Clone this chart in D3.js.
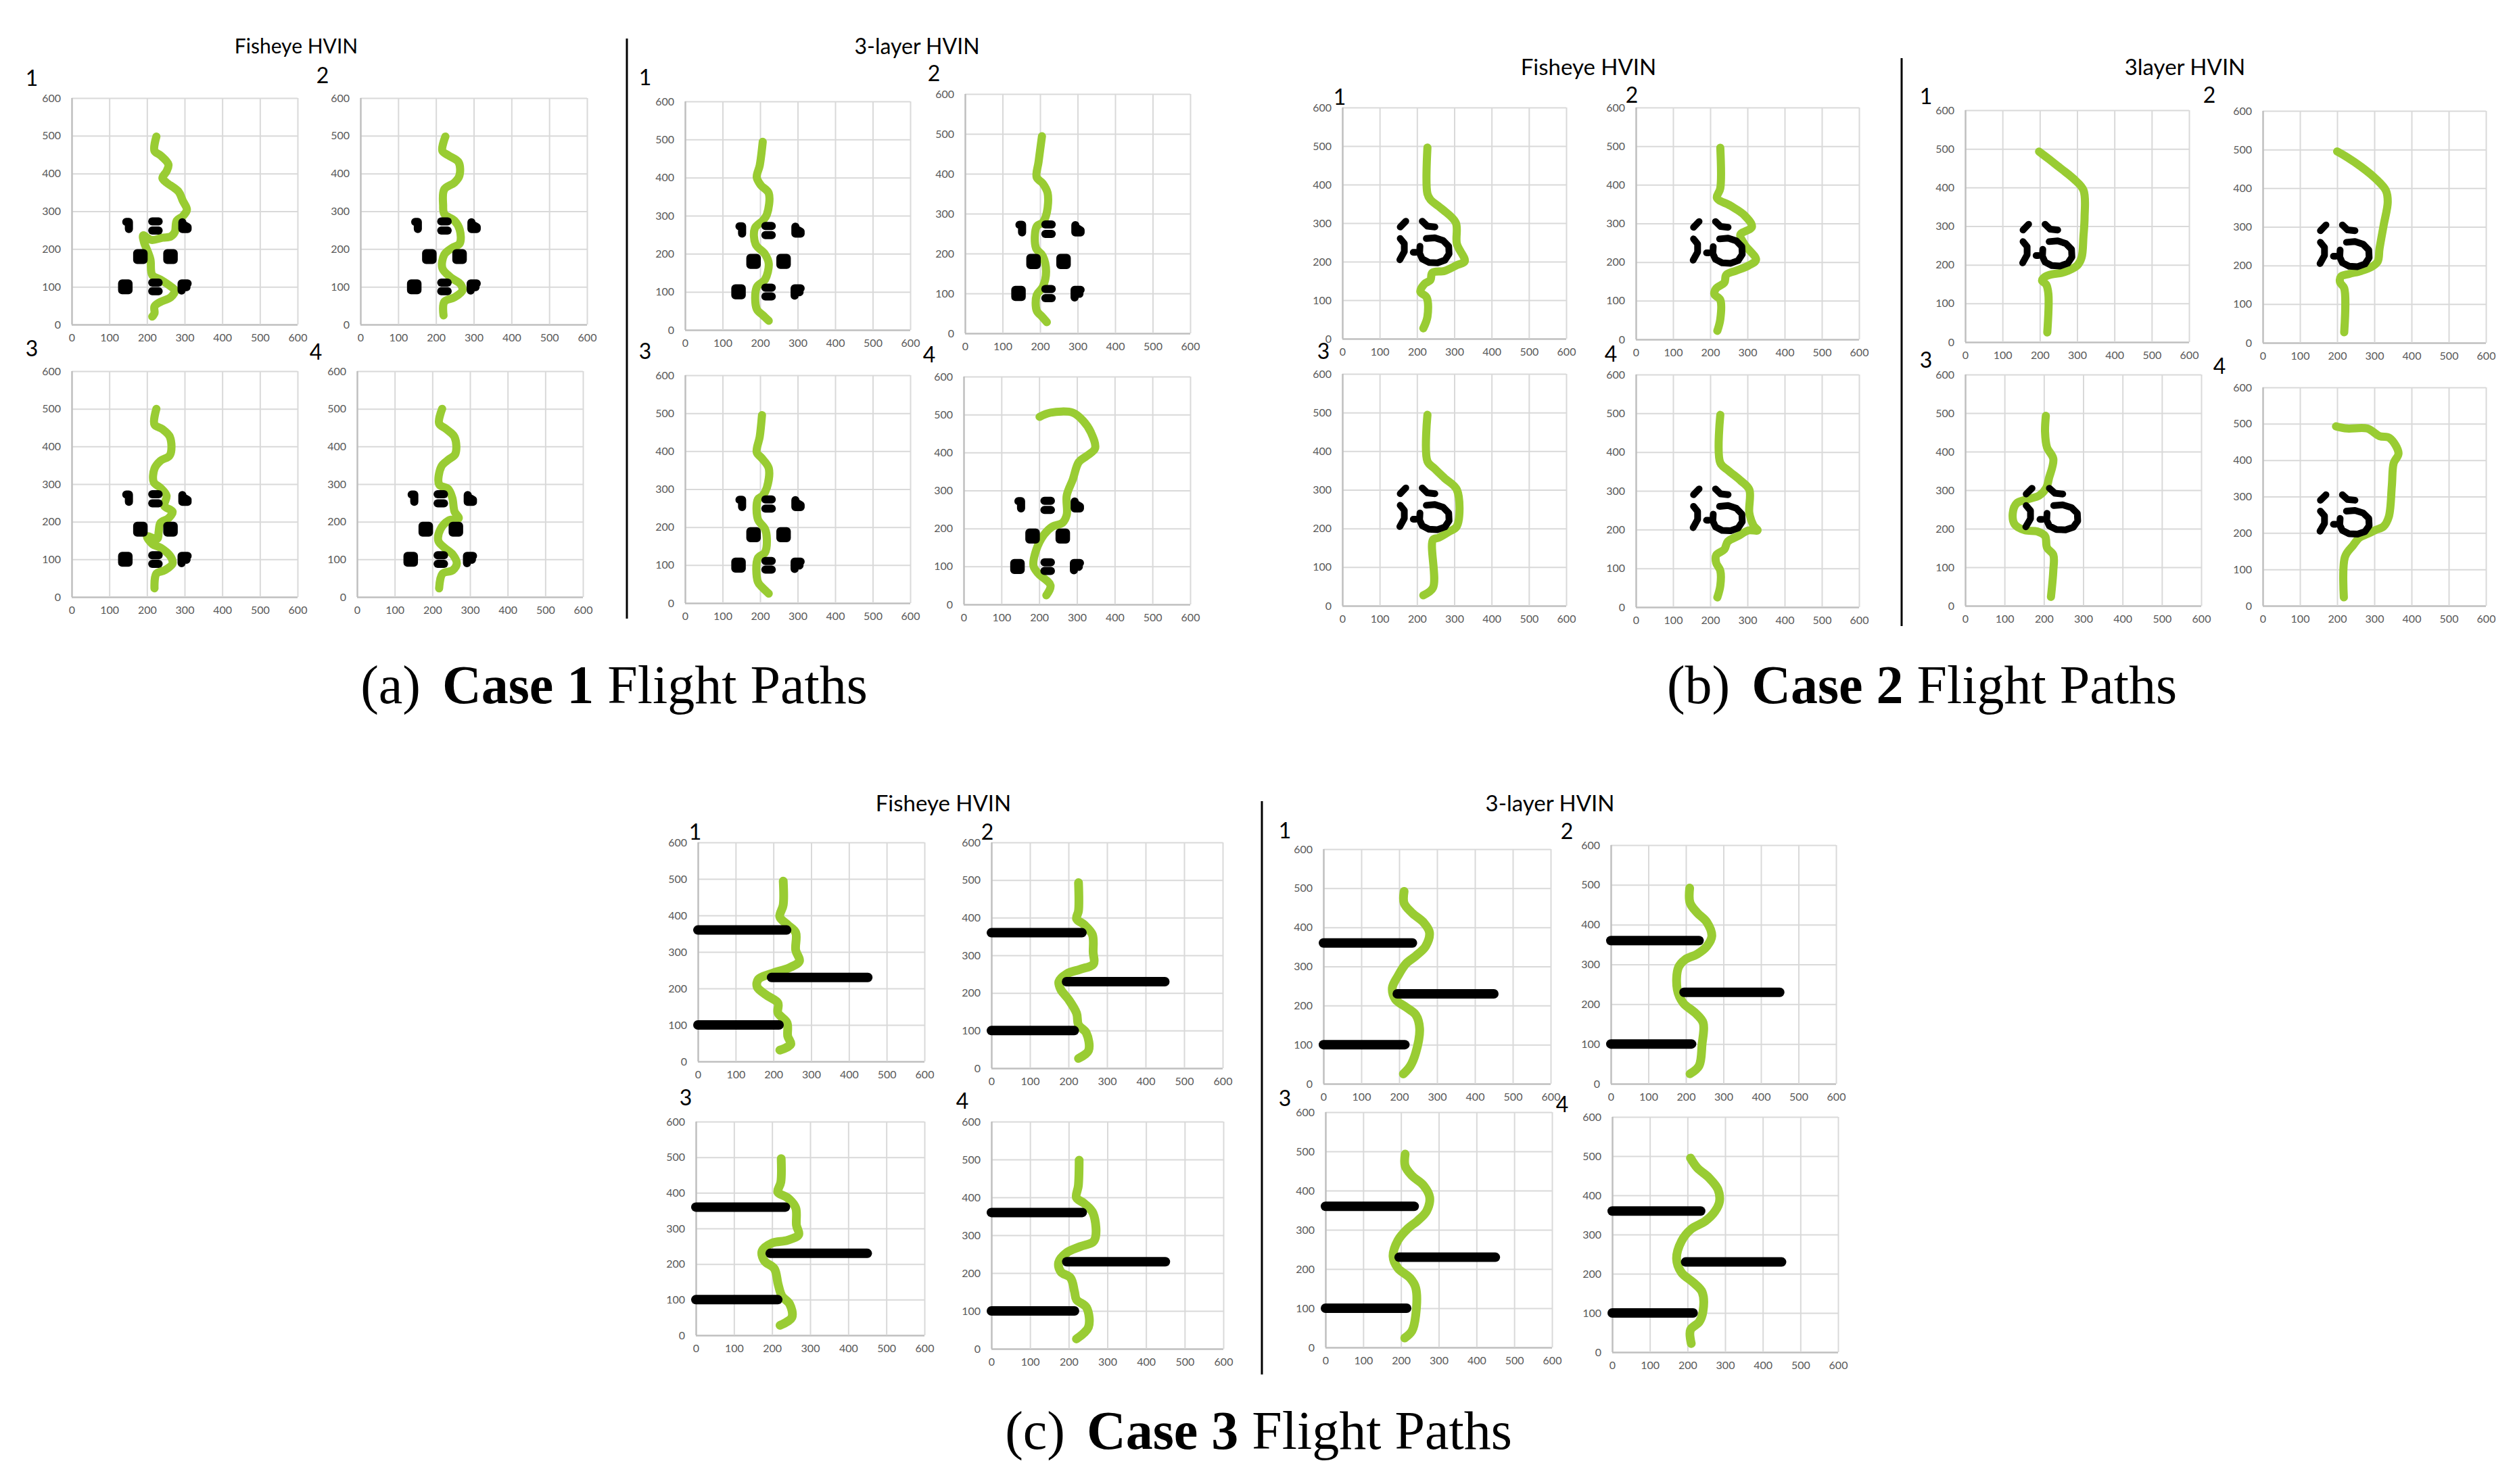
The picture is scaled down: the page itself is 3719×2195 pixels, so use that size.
<!DOCTYPE html>
<html><head><meta charset="utf-8">
<script src="https://cdn.jsdelivr.net/npm/d3@7"></script>
<style>body{margin:0;background:#fff}</style>
</head><body><svg id="c" width="3719" height="2195" xmlns="http://www.w3.org/2000/svg"></svg>
<script>
// ---------- DATA ----------
const axisTicks = [0, 100, 200, 300, 400, 500, 600];
const panelNames = ["1", "2", "3", "4"];
const groupTitles = ["Fisheye HVIN", "3-layer HVIN", "Fisheye HVIN", "3layer HVIN", "Fisheye HVIN", "3-layer HVIN"];
const captionLabels = ["(a)", "(b)", "(c)"];
const captionCases = ["Case 1", "Case 2", "Case 3"];
const captionRest = " Flight Paths";

// obstacles (polylines, in chart units)
const case1Obstacles = [
  [[145,272],[152,272],[152,253]],
  [[214,273],[231,273]], [[214,249],[231,249]],
  [[294,271],[294,253],[308,253]], [[301,262],[308,258]],
  [[174,189],[191,189],[191,171],[174,171],[174,189]],
  [[254,189],[271,189],[271,171],[254,171],[254,189]],
  [[134,109],[151,109],[151,91],[134,91],[134,109]],
  [[214,111],[231,111]], [[214,88],[231,88]],
  [[292,90],[292,109],[308,109]], [[299,101],[305,99]]
];
const case2Obstacles = [
  [[155,290],[170,305]],
  [[214,305],[228,292],[248,290]],
  [[155,260],[166,247],[166,226],[154,205]],
  [[190,224],[196,224]],
  [[225,260],[248,262],[270,255],[285,240],[286,220],[275,204],[255,197],[232,198],[214,207],[207,222],[208,240]]
];
const case3Obstacles = [
  [[0,360],[235,360]],
  [[195,230],[450,230]],
  [[0,100],[215,100]]
];

// flight paths
const c1Fish1 = [[225,498],[220,460],[236,448],[257,424],[252,406],[241,388],[252,376],[284,352],[295,328],[306,304],[295,287],[279,275],[274,245],[263,233],[241,230],[212,224],[190,236],[193,215],[198,203],[209,173],[214,131],[236,119],[263,101],[274,90],[263,72],[236,60],[220,48],[220,30],[214,21]];
const c1Fish2 = [[225,498],[217,460],[233,448],[260,430],[262,394],[249,376],[222,358],[219,316],[222,293],[249,275],[263,251],[263,215],[243,203],[222,185],[217,149],[239,125],[265,107],[270,90],[249,72],[222,60],[220,24]];
const c1Fish3 = [[225,500],[220,458],[241,446],[261,425],[261,377],[236,362],[220,341],[218,305],[236,290],[252,269],[246,242],[268,227],[257,209],[236,197],[231,173],[228,155],[200,161],[215,140],[236,131],[263,107],[268,89],[247,71],[225,62],[220,23]];
const c1Fish4 = [[226,500],[218,461],[237,446],[259,425],[261,380],[243,365],[224,347],[218,299],[242,287],[253,263],[259,227],[270,209],[243,203],[221,179],[216,149],[232,131],[254,113],[265,89],[254,71],[227,62],[218,23]];
const c1Layer1 = [[207,494],[199,432],[191,401],[202,380],[223,359],[218,303],[207,287],[186,267],[188,225],[213,199],[223,174],[213,132],[191,112],[191,55],[207,39],[223,24]];
const c1Layer2 = [[205,494],[196,430],[191,391],[207,376],[220,352],[218,303],[207,278],[191,268],[189,214],[207,194],[216,155],[207,116],[191,96],[191,57],[205,42],[218,28]];
const c1Layer3 = [[205,495],[199,438],[191,397],[205,381],[223,355],[218,304],[207,283],[194,273],[194,221],[213,195],[218,169],[213,133],[194,118],[194,56],[207,40],[223,25]];
const c1Layer4 = [[201,494],[230,505],[289,505],[316,484],[337,453],[348,411],[326,391],[305,375],[289,329],[273,287],[273,236],[262,215],[235,205],[213,184],[192,143],[185,101],[198,81],[230,50],[219,24]];

const c2Fish1 = [[228,496],[228,376],[236,361],[268,336],[304,301],[307,246],[328,201],[307,191],[274,176],[241,171],[236,152],[220,142],[209,122],[226,107],[228,57],[217,27]];
const c2Fish2 = [[227,496],[227,391],[218,366],[254,346],[292,321],[312,291],[281,271],[292,246],[323,206],[303,191],[270,178],[243,167],[238,147],[216,132],[211,117],[227,102],[227,52],[219,22]];
const c2Fish3 = [[228,494],[228,374],[247,355],[274,330],[307,300],[307,206],[285,191],[258,176],[243,171],[243,47],[217,27]];
const c2Fish4 = [[227,496],[227,372],[249,352],[281,327],[305,303],[305,243],[316,211],[327,198],[303,198],[276,184],[247,169],[238,149],[216,134],[216,114],[227,94],[227,55],[219,25]];
const c2Layer1 = [[198,493],[225,473],[258,448],[290,423],[317,393],[320,323],[317,274],[312,219],[301,199],[274,184],[258,179],[236,176],[214,169],[206,159],[217,149],[223,124],[220,25]];
const c2Layer2 = [[200,495],[227,480],[265,455],[303,425],[331,394],[336,364],[325,304],[314,244],[309,210],[292,196],[265,186],[232,178],[210,171],[208,156],[219,141],[219,27]];
const c2Layer3 = [[205,493],[203,451],[208,411],[224,381],[213,331],[206,306],[188,286],[157,276],[131,266],[121,241],[126,211],[152,196],[183,193],[203,181],[208,151],[224,132],[224,92],[218,23]];
const c2Layer4 = [[197,493],[227,487],[281,487],[314,466],[341,461],[365,419],[352,392],[347,329],[339,245],[325,218],[303,208],[281,197],[260,187],[243,166],[221,134],[218,23]];

const c3Fish1 = [[226,494],[226,429],[217,396],[238,374],[259,353],[259,305],[269,275],[243,257],[196,241],[160,225],[157,204],[181,182],[212,160],[212,133],[236,106],[238,69],[246,47],[217,31]];
const c3Fish2 = [[226,493],[226,418],[221,397],[241,381],[262,355],[264,308],[265,277],[231,263],[196,251],[175,230],[180,209],[200,183],[221,146],[226,115],[246,94],[252,47],[226,26]];
const c3Fish3 = [[224,496],[223,430],[215,402],[241,386],[262,358],[264,309],[270,283],[241,267],[200,259],[174,237],[180,209],[206,187],[216,143],[226,110],[246,88],[252,50],[221,28]];
const c3Fish4 = [[227,498],[225,431],[220,399],[240,384],[263,358],[266,286],[230,270],[195,254],[174,228],[180,203],[205,187],[215,151],[220,130],[246,109],[251,57],[220,26]];
const c3Layer1 = [[213,492],[213,462],[234,437],[265,412],[280,387],[270,352],[244,327],[218,307],[197,276],[182,246],[190,216],[218,196],[244,176],[254,141],[244,80],[229,45],[211,25]];
const c3Layer2 = [[210,492],[211,455],[230,430],[256,406],[269,371],[256,346],[230,326],[198,312],[180,292],[177,237],[193,203],[225,178],[246,153],[243,99],[235,45],[211,25]];
const c3Layer3 = [[211,493],[211,463],[229,438],[260,413],[276,383],[268,348],[244,323],[218,303],[192,273],[179,232],[192,202],[224,177],[239,152],[239,82],[229,42],[210,24]];
const c3Layer4 = [[208,495],[226,470],[257,445],[281,415],[285,384],[273,359],[247,334],[210,314],[184,283],[171,238],[184,203],[215,178],[239,153],[241,103],[231,77],[208,57],[210,22]];

// ---------- LAYOUT ----------
const groups = [
  {title: 0, tx: 438, ty: 79, tfs: 30, obstacles: case1Obstacles, obsW: 12, pathW: 12,
   paths: [c1Fish1, c1Fish2, c1Fish3, c1Fish4],
   panels: [[106,145,334,335],[533,145,335,335],[106,549,334,334],[528,549,334,334]],
   nums: [[47,127],[477,123],[47,527],[467,532]]},
  {title: 1, tx: 1356, ty: 80, tfs: 32, obstacles: case1Obstacles, obsW: 12, pathW: 12,
   paths: [c1Layer1, c1Layer2, c1Layer3, c1Layer4],
   panels: [[1013,150,333,338],[1427,139,333,354],[1013,555,333,337],[1425,557,335,337]],
   nums: [[954,126],[1381,120],[954,531],[1374,536]]},
  {title: 2, tx: 2349, ty: 111, tfs: 33, obstacles: case2Obstacles, obsW: 10, pathW: 12,
   paths: [c2Fish1, c2Fish2, c2Fish3, c2Fish4],
   panels: [[1985,159,331,342],[2419,159,330,343],[1985,553,331,343],[2419,554,330,344]],
   nums: [[1981,155],[2413,152],[1957,531],[2382,535]]},
  {title: 3, tx: 3231, ty: 111, tfs: 33, obstacles: case2Obstacles, obsW: 10, pathW: 12,
   paths: [c2Layer1, c2Layer2, c2Layer3, c2Layer4],
   panels: [[2906,163,331,343],[3346,164,330,343],[2906,554,349,342],[3346,573,330,323]],
   nums: [[2848,154],[3267,152],[2848,544],[3282,553]]},
  {title: 4, tx: 1395, ty: 1200, tfs: 33, obstacles: case3Obstacles, obsW: 14, pathW: 13,
   paths: [c3Fish1, c3Fish2, c3Fish3, c3Fish4],
   panels: [[1032,1246,335,324],[1466,1246,342,334],[1029,1659,338,316],[1466,1659,343,336]],
   nums: [[1028,1242],[1460,1242],[1014,1635],[1423,1640]]},
  {title: 5, tx: 2292, ty: 1200, tfs: 33, obstacles: case3Obstacles, obsW: 14, pathW: 13,
   paths: [c3Layer1, c3Layer2, c3Layer3, c3Layer4],
   panels: [[1957,1256,336,347],[2382,1250,333,353],[1960,1645,335,348],[2384,1652,334,348]],
   nums: [[1900,1240],[2317,1241],[1900,1636],[2310,1645]]}
];
const separators = [[927,57,915],[2812,86,926],[1866,1185,2033]];
const captions = [[908,1040],[2842,1040],[1861,2143]];

// ---------- DRAW ----------
const svg = d3.select("#c");
svg.append("rect").attr("width",3719).attr("height",2195).attr("fill","#fff");
const GREEN = "#99CC33";
const tickFont = "Lato, 'Open Sans', sans-serif";

groups.forEach(g => {
  svg.append("text").attr("x", g.tx).attr("y", g.ty).attr("text-anchor","middle")
    .attr("font-family", tickFont).attr("font-size", g.tfs).attr("fill","#000")
    .text(groupTitles[g.title]);

  g.panels.forEach((p, i) => {
    const [px, py, pw, ph] = p;
    const x = d3.scaleLinear().domain([0,600]).range([0,pw]);
    const y = d3.scaleLinear().domain([0,600]).range([ph,0]);
    const pg = svg.append("g").attr("transform", `translate(${px},${py})`);

    const ya = pg.append("g").call(d3.axisLeft(y).tickValues(axisTicks).tickSize(-pw).tickPadding(16));
    ya.select(".domain").remove();
    ya.selectAll("line").attr("stroke", d => d === 0 ? "#bfbfbf" : "#d9d9d9").attr("stroke-width", d => d === 0 ? 2.5 : 2);
    ya.selectAll("text").attr("font-family", tickFont).attr("font-size", 16).attr("fill","#595959");
    const xa = pg.append("g").attr("transform", `translate(0,${ph})`)
      .call(d3.axisBottom(x).tickValues(axisTicks).tickSize(-ph).tickPadding(14));
    xa.select(".domain").remove();
    xa.selectAll("line").attr("stroke", d => d === 0 ? "#bfbfbf" : "#d9d9d9").attr("stroke-width", d => d === 0 ? 2.5 : 2);
    xa.selectAll("text").attr("font-family", tickFont).attr("font-size", 16).attr("fill","#595959");

    const line = d3.line().x(d => x(d[0])).y(d => y(d[1]));
    const curved = d3.line().x(d => x(d[0])).y(d => y(d[1])).curve(d3.curveCatmullRom.alpha(0.5));

    pg.append("path").attr("d", curved(g.paths[i])).attr("fill","none")
      .attr("stroke", GREEN).attr("stroke-width", g.pathW)
      .attr("stroke-linecap","round").attr("stroke-linejoin","round");

    pg.selectAll(".obs").data(g.obstacles).join("path").attr("class","obs")
      .attr("d", d => line(d)).attr("fill","none").attr("stroke","#000")
      .attr("stroke-width", g.obsW).attr("stroke-linecap","round").attr("stroke-linejoin","round");

    svg.append("text").attr("x", g.nums[i][0]).attr("y", g.nums[i][1]).attr("text-anchor","middle")
      .attr("font-family", tickFont).attr("font-size", 32).attr("fill","#000").text(panelNames[i]);
  });
});

separators.forEach(s => {
  svg.append("line").attr("x1", s[0]).attr("x2", s[0]).attr("y1", s[1]).attr("y2", s[2])
    .attr("stroke","#000").attr("stroke-width",3);
});

captions.forEach((c, i) => {
  const t = svg.append("text").attr("x", c[0]).attr("y", c[1]).attr("text-anchor","middle")
    .attr("font-family","'Liberation Serif', 'DejaVu Serif', serif").attr("font-size", 80).attr("fill","#000");
  t.append("tspan").text(captionLabels[i]);
  t.append("tspan").attr("dx", 32).attr("font-weight","bold").text(captionCases[i]);
  t.append("tspan").text(captionRest);
});
</script>
</body></html>
